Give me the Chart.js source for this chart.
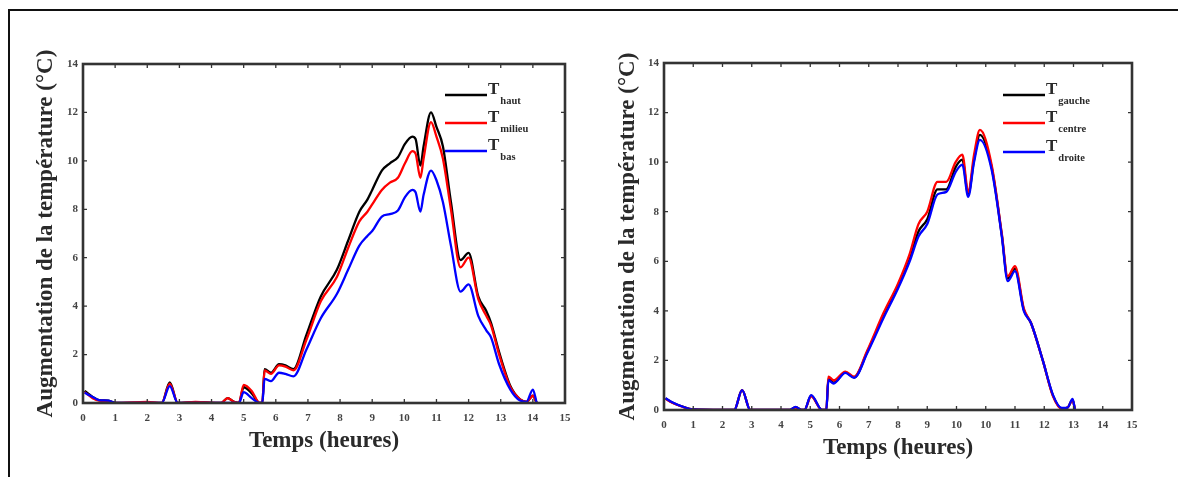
<!DOCTYPE html>
<html>
<head>
<meta charset="utf-8">
<script src="https://cdn.jsdelivr.net/npm/chart.js@4.4.0/dist/chart.umd.min.js"></script>
<style>
  html, body { margin: 0; padding: 0; background: #fff; }
  body { width: 1178px; height: 477px; position: relative; overflow: hidden; }
  #frameTop { position: absolute; left: 8px; top: 9px; width: 1170px; height: 2px; background: #111; }
  #frameLeft { position: absolute; left: 8px; top: 9px; width: 2px; height: 468px; background: #111; }
  .panel { position: absolute; top: 0; }
  #leftPanel { left: 0; }
  #rightPanel { left: 590px; }
</style>
</head>
<body>
<div id="frameTop"></div>
<div id="frameLeft"></div>
<canvas id="leftPanel" class="panel" width="590" height="477"></canvas>
<canvas id="rightPanel" class="panel" width="588" height="477"></canvas>
<script>
// ---- Vertical profile (haut / milieu / bas) ----
const leftTime = [0.05, 0.3, 0.5, 0.8, 1.0, 2.0, 2.45, 2.7, 2.95, 3.5, 4.3, 4.5, 4.7, 4.85, 5.0, 5.25, 5.5, 5.58,
  5.65, 5.85, 6.1, 6.3, 6.55, 6.95, 7.4, 7.9, 8.25, 8.6, 8.85, 9.0, 9.3, 9.55, 9.8, 10.02, 10.25, 10.35, 10.5,
  10.6, 10.83, 11.0, 11.2, 11.45, 11.75, 12.0, 12.3, 12.55, 12.7, 12.95, 13.3, 13.6, 13.8, 14.0, 14.12];
const tHaut = [0.5, 0.25, 0.12, 0.1, 0, 0, 0, 0.85, 0, 0.03, 0, 0.2, 0.05, 0, 0.65, 0.4, 0, 0,
  1.4, 1.25, 1.6, 1.55, 1.4, 2.8, 4.4, 5.5, 6.7, 7.9, 8.4, 8.8, 9.6, 9.9, 10.15, 10.7, 11.0, 10.9, 9.8,
  10.6, 12.0, 11.4, 10.6, 8.3, 5.9, 6.2, 4.4, 3.8, 3.3, 2.1, 0.7, 0.15, 0.05, 0.3, 0];
const tMilieu = [0.45, 0.2, 0.1, 0.08, 0, 0.05, 0, 0.8, 0, 0.05, 0, 0.2, 0.05, 0, 0.75, 0.5, 0, 0,
  1.35, 1.2, 1.55, 1.5, 1.35, 2.6, 4.2, 5.2, 6.4, 7.5, 7.9, 8.2, 8.8, 9.1, 9.3, 9.9, 10.4, 10.3, 9.3,
  10.1, 11.6, 11.0, 10.1, 8.0, 5.6, 6.0, 4.3, 3.6, 3.2, 2.0, 0.65, 0.15, 0.05, 0.3, 0];
const tBas = [0.42, 0.25, 0.12, 0.1, 0, 0, 0, 0.7, 0, 0, 0, 0, 0, 0, 0.45, 0.2, 0, 0,
  1.0, 0.9, 1.25, 1.2, 1.1, 2.2, 3.5, 4.5, 5.5, 6.5, 6.9, 7.1, 7.7, 7.8, 7.95, 8.5, 8.8, 8.7, 7.9,
  8.6, 9.6, 9.2, 8.3, 6.5, 4.6, 4.9, 3.6, 3.0, 2.7, 1.6, 0.55, 0.1, 0.05, 0.55, 0];
const leftTickLabels = ['0', '1', '2', '3', '4', '5', '6', '7', '8', '9', '10', '11', '12', '13', '14', '15'];

// ---- Horizontal profile (gauche / centre / droite) ----
const rightTime = [0.05, 0.3, 0.6, 1.0, 2.0, 2.4, 2.67, 2.95, 4.3, 4.5, 4.7, 4.8, 5.03, 5.4, 5.55, 5.62, 5.8,
  6.2, 6.5, 6.95, 7.5, 8.0, 8.4, 8.7, 9.0, 9.35, 9.65, 9.97, 10.2, 10.4, 10.6, 10.8, 11.2, 11.55, 11.75, 12.0,
  12.3, 12.55, 12.95, 13.3, 13.6, 13.8, 13.97, 14.05];
const tGauche = [0.46, 0.29, 0.15, 0.02, 0, 0, 0.8, 0, 0, 0.12, 0, 0, 0.58, 0, 0, 1.25, 1.1,
  1.52, 1.32, 2.35, 3.8, 5.0, 6.1, 7.2, 7.7, 8.9, 8.9, 9.8, 10.1, 8.7, 10.1, 11.1, 9.8, 7.05, 5.3, 5.7,
  4.05, 3.5, 2.0, 0.58, 0.06, 0.1, 0.42, 0];
const tCentre = [0.45, 0.28, 0.14, 0.02, 0, 0, 0.8, 0, 0, 0.1, 0, 0, 0.55, 0, 0, 1.35, 1.2,
  1.55, 1.35, 2.4, 3.9, 5.1, 6.3, 7.5, 8.0, 9.2, 9.2, 10.0, 10.3, 8.8, 10.3, 11.3, 9.9, 7.1, 5.4, 5.8,
  4.1, 3.5, 2.0, 0.55, 0.05, 0.1, 0.4, 0];
const tDroite = [0.47, 0.3, 0.15, 0.02, 0, 0, 0.8, 0, 0, 0.13, 0, 0, 0.6, 0, 0, 1.2, 1.07,
  1.5, 1.3, 2.3, 3.7, 4.9, 6.0, 7.0, 7.5, 8.7, 8.8, 9.6, 9.9, 8.6, 10.0, 10.9, 9.7, 7.0, 5.2, 5.6,
  4.0, 3.5, 2.0, 0.6, 0.08, 0.1, 0.45, 0];
const rightTickLabels = ['0', '1', '2', '3', '4', '5', '6', '7', '8', '9', '10', '10', '11', '12', '13', '14', '15'];

const yTickValues = [0, 2, 4, 6, 8, 10, 12, 14];

const SERIF = '"Liberation Serif", "DejaVu Serif", serif';
const INK = '#2a2a2a';

function points(time, values) {
  return time.map((t, i) => ({ x: t, y: values[i] }));
}

// Box around the plot, inward tick marks on all four sides, and the legend with subscripts
const framePlugin = {
  id: 'frame',
  afterDraw(chart, args, opts) {
    const { ctx, chartArea: a, scales: { x, y } } = chart;
    ctx.save();
    ctx.strokeStyle = '#333';
    ctx.lineWidth = 1.3;
    const L = 4;
    ctx.beginPath();
    x.ticks.forEach(t => {
      const px = x.getPixelForValue(t.value);
      ctx.moveTo(px, a.bottom); ctx.lineTo(px, a.bottom - L);
      ctx.moveTo(px, a.top); ctx.lineTo(px, a.top + L);
    });
    y.ticks.forEach(t => {
      const py = y.getPixelForValue(t.value);
      ctx.moveTo(a.left, py); ctx.lineTo(a.left + L, py);
      ctx.moveTo(a.right, py); ctx.lineTo(a.right - L, py);
    });
    ctx.stroke();

    ctx.lineWidth = 2.6;
    ctx.strokeStyle = '#333';
    ctx.strokeRect(a.left, a.top, a.right - a.left, a.bottom - a.top);

    const lg = opts.legend;
    chart.data.datasets.forEach((ds, i) => {
      const ry = a.top + lg.rows[i];
      const x0 = a.right + lg.x0, x1 = a.right + lg.x1;
      ctx.strokeStyle = ds.borderColor;
      ctx.lineWidth = 2.6;
      ctx.beginPath(); ctx.moveTo(x0, ry); ctx.lineTo(x1, ry); ctx.stroke();
      ctx.fillStyle = INK;
      ctx.textBaseline = 'alphabetic';
      ctx.textAlign = 'left';
      ctx.font = 'bold 17px ' + SERIF;
      ctx.fillText(ds.mainLabel, x1 + 1, ry - 1);
      const tw = ctx.measureText(ds.mainLabel).width;
      ctx.font = 'bold 10.5px ' + SERIF;
      ctx.fillText(ds.subLabel, x1 + 1 + tw + 1, ry + 9);
    });
    ctx.restore();
  }
};

function makeChart(id, spec) {
  const datasets = spec.series.map(s => ({
    label: s.main + s.sub,
    mainLabel: s.main,
    subLabel: s.sub,
    data: points(spec.time, s.values),
    borderColor: s.color,
    borderWidth: 2.3,
    pointRadius: 0,
    cubicInterpolationMode: 'monotone',
    order: s.order,
    fill: false
  }));
  return new Chart(document.getElementById(id), {
    type: 'line',
    data: { datasets },
    plugins: [framePlugin],
    options: {
      responsive: false,
      animation: false,
      layout: { padding: { left: 0, top: spec.area.top, right: spec.area.right, bottom: 0 } },
      plugins: {
        legend: { display: false },
        tooltip: { enabled: false },
        frame: { legend: spec.legend }
      },
      scales: {
        x: {
          type: 'linear',
          min: 0,
          max: spec.xLabels.length - 1,
          afterFit: s => { s.height = spec.area.xHeight; },
          afterBuildTicks: s => { s.ticks = spec.xLabels.map((_, i) => ({ value: i })); },
          grid: { display: false, drawTicks: false },
          border: { display: false },
          ticks: {
            autoSkip: false,
            maxRotation: 0,
            padding: spec.area.xTickPad,
            color: '#444',
            font: { family: SERIF, size: 11, weight: 'bold' },
            callback: v => spec.xLabels[Math.round(v)]
          },
          title: {
            display: true,
            text: 'Temps (heures)',
            color: INK,
            font: { family: SERIF, size: 23, weight: 'bold' },
            padding: { top: 0, bottom: spec.area.xTitlePad }
          }
        },
        y: {
          min: 0,
          max: 14,
          afterFit: s => { s.width = spec.area.yWidth; },
          afterBuildTicks: s => { s.ticks = yTickValues.map(v => ({ value: v })); },
          grid: { display: false, drawTicks: false },
          border: { display: false },
          ticks: {
            padding: 5,
            color: '#444',
            font: { family: SERIF, size: 11, weight: 'bold' }
          },
          title: {
            display: true,
            text: 'Augmentation de la température (°C)',
            color: INK,
            font: { family: SERIF, size: 23, weight: 'bold' },
            padding: { top: spec.area.yTitlePad, bottom: 0 }
          }
        }
      }
    }
  });
}

makeChart('leftPanel', {
  time: leftTime,
  xLabels: leftTickLabels,
  series: [
    { main: 'T', sub: 'haut', values: tHaut, color: '#000000', order: 2 },
    { main: 'T', sub: 'milieu', values: tMilieu, color: '#ff0000', order: 1 },
    { main: 'T', sub: 'bas', values: tBas, color: '#0000ff', order: 0 }
  ],
  area: { top: 64, right: 25, yWidth: 83, xHeight: 74, xTickPad: 9, xTitlePad: 22, yTitlePad: 32 },
  legend: { x0: -120, x1: -78, rows: [31, 59, 87] }
});

makeChart('rightPanel', {
  time: rightTime,
  xLabels: rightTickLabels,
  series: [
    { main: 'T', sub: 'gauche', values: tGauche, color: '#000000', order: 2 },
    { main: 'T', sub: 'centre', values: tCentre, color: '#ff0000', order: 1 },
    { main: 'T', sub: 'droite', values: tDroite, color: '#0000ff', order: 0 }
  ],
  area: { top: 63, right: 46, yWidth: 74, xHeight: 67, xTickPad: 9, xTitlePad: 15, yTitlePad: 24 },
  legend: { x0: -129, x1: -87, rows: [32, 60, 89] }
});
</script>
</body>
</html>
